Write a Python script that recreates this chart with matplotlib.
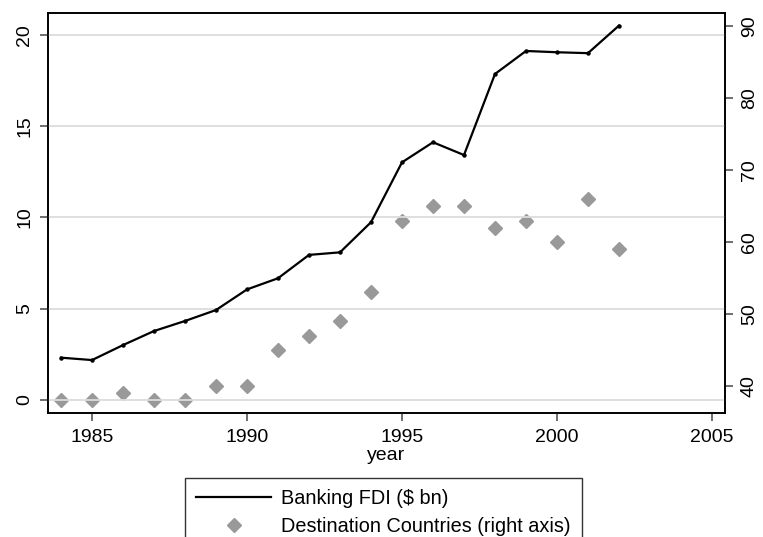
import matplotlib
matplotlib.use("Agg")
import matplotlib.pyplot as plt
from matplotlib.lines import Line2D

plt.rcParams['font.family'] = ['Liberation Sans', 'DejaVu Sans']

years = [1984, 1985, 1986, 1987, 1988, 1989, 1990, 1991, 1992, 1993,
         1994, 1995, 1996, 1997, 1998, 1999, 2000, 2001, 2002]
banking_fdi = [2.32, 2.19, 3.01, 3.78, 4.33, 4.93, 6.06, 6.67, 7.95, 8.09,
               9.74, 13.02, 14.12, 13.42, 17.86, 19.12, 19.05, 19.0, 20.51]
destinations = [38, 38, 39, 38, 38, 40, 40, 45, 47, 49,
                53, 63, 65, 65, 62, 63, 60, 66, 59]

x_ticks = [1985, 1990, 1995, 2000, 2005]
left_ticks = [0, 5, 10, 15, 20]
right_ticks = [40, 50, 60, 70, 80, 90]

FS = 14
W, H = 763, 537
fig = plt.figure(figsize=(W / 100, H / 100), dpi=100)
ax = fig.add_axes([48 / W, 1 - 413 / H, (725 - 48) / W, (413 - 13) / H])
ax2 = ax.twinx()

ax.set_xlim(1983.58, 2005.42)
ax.set_ylim(-0.71, 21.2)
ax2.set_ylim(36.25, 91.85)

for t in left_ticks:
    ax.axhline(t, color='#dcdcdc', lw=1.3, zorder=0)

ax.plot(years, banking_fdi, color='black', lw=1.6, marker='o', ms=2.2, zorder=3)
ax2.plot(years, destinations, ls='none', marker='D', ms=7.5, color='#999999',
         mec='#999999', zorder=2)
ax.set_zorder(ax2.get_zorder() + 1)
ax.patch.set_visible(False)

ax.set_xticks(x_ticks)
ax.set_yticks(left_ticks)
ax2.set_yticks(right_ticks)
ax.set_yticklabels([str(t) for t in left_ticks], rotation=90, va='center')
ax2.set_yticklabels([str(t) for t in right_ticks], rotation=90, va='center')

for a in (ax, ax2):
    a.tick_params(direction='out', length=5.5, width=1.2, color='#555555',
                  labelsize=FS, labelcolor='black', pad=3)
    for s in a.spines.values():
        s.set_linewidth(1.2)
        s.set_color('black')
ax.tick_params(axis='x', pad=6)
ax.tick_params(axis='y', pad=5)
ax2.tick_params(axis='y', pad=6)

ax.set_xlabel('year', fontsize=FS, labelpad=1)

LFS = 14.3
handles = [Line2D([], [], color='black', lw=1.6),
           Line2D([], [], ls='none', marker='D', ms=7, color='#999999')]
labels = ['Banking FDI ($ bn)', 'Destination Countries (right axis)']
leg = fig.legend(handles, labels, loc='upper left',
                 bbox_to_anchor=(185 / W, 1 - 478 / H), fontsize=LFS,
                 frameon=True, fancybox=False, edgecolor='black',
                 handlelength=3.8, borderpad=0.55, labelspacing=0.45,
                 handletextpad=0.5, borderaxespad=0)
leg.get_frame().set_linewidth(1.0)

fig.savefig('out.png', dpi=100)
